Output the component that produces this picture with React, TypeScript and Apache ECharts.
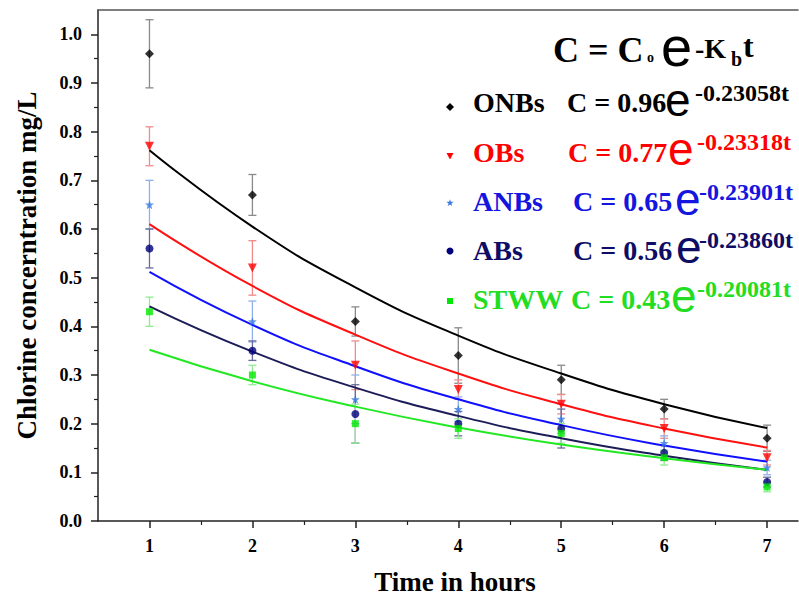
import React, { useEffect, useRef } from "react";
import * as echarts from "echarts";

// ---- data ----
const hours = [1, 2, 3, 4, 5, 6, 7];
const xMajorTicks = [1, 2, 3, 4, 5, 6, 7];
const xMinorTicks = [1.5, 2.5, 3.5, 4.5, 5.5, 6.5];
const yMajorTicks = [0, 0.1, 0.2, 0.3, 0.4, 0.5, 0.6, 0.7, 0.8, 0.9, 1.0];
const yMinorTicks = [0.05, 0.15, 0.25, 0.35, 0.45, 0.55, 0.65, 0.75, 0.85, 0.95];

const onbs = [0.96, 0.67, 0.41, 0.34, 0.29, 0.23, 0.17];
const onbsErr = [0.07, 0.042, 0.03, 0.057, 0.03, 0.02, 0.027];
const onbsFit = [0.762, 0.605, 0.48, 0.381, 0.303, 0.24, 0.191];

const obs = [0.77, 0.52, 0.32, 0.27, 0.24, 0.19, 0.13];
const obsErr = [0.04, 0.056, 0.05, 0.02, 0.02, 0.02, 0.015];
const obsFit = [0.61, 0.483, 0.383, 0.303, 0.24, 0.19, 0.151];

const anbs = [0.65, 0.41, 0.25, 0.23, 0.21, 0.16, 0.11];
const anbsErr = [0.05, 0.042, 0.05, 0.025, 0.03, 0.015, 0.015];
const anbsFit = [0.512, 0.403, 0.318, 0.25, 0.197, 0.155, 0.122];

const abs = [0.56, 0.35, 0.22, 0.2, 0.19, 0.14, 0.08];
const absErr = [0.04, 0.02, 0.06, 0.025, 0.04, 0.015, 0.01];
const absFit = [0.441, 0.348, 0.274, 0.216, 0.17, 0.134, 0.105];

const stww = [0.43, 0.3, 0.2, 0.19, 0.18, 0.13, 0.07];
const stwwErr = [0.03, 0.02, 0.04, 0.02, 0.02, 0.015, 0.01];
const stwwFit = [0.352, 0.287, 0.235, 0.192, 0.157, 0.129, 0.105];

const seriesNames = ["ONBs", "OBs", "ANBs", "ABs", "STWW"];
const coefs = ["0.96", "0.77", "0.65", "0.56", "0.43"];
const exponents = ["-0.23058t", "-0.23318t", "-0.23901t", "-0.23860t", "-0.20081t"];

const SERIF = "'Liberation Serif', 'Times New Roman', serif";
const SANS = "'Liberation Sans', Arial, sans-serif";
const STAR = "path://M0,-10L2.35,-3.24L9.51,-3.09L3.8,1.24L5.88,8.09L0,4L-5.88,8.09L-3.8,1.24L-9.51,-3.09L-2.35,-3.24Z";

export default function App() {
  const ref = useRef<HTMLDivElement>(null);

  useEffect(() => {
    document.body.style.margin = "0";
    const chart = echarts.init(ref.current!, undefined, { renderer: "svg" });

    const groups = [
      { name: "ONBs", v: onbs, e: onbsErr, fit: onbsFit, pt: "#000000", line: "#000000", err: "#8a8a8a", text: "#000000", symbol: "diamond", size: 9, rot: 0 },
      { name: "OBs", v: obs, e: obsErr, fit: obsFit, pt: "#ff0000", line: "#ff1010", err: "#f28a8a", text: "#ff0000", symbol: "triangle", size: 9, rot: 180 },
      { name: "ANBs", v: anbs, e: anbsErr, fit: anbsFit, pt: "#3a7be0", line: "#1010ff", err: "#8fb0e8", text: "#1515e0", symbol: STAR, size: 9, rot: 0 },
      { name: "ABs", v: abs, e: absErr, fit: absFit, pt: "#00007a", line: "#1c1c58", err: "#6a6a9a", text: "#0d0d66", symbol: "circle", size: 8, rot: 0 },
      { name: "STWW", v: stww, e: stwwErr, fit: stwwFit, pt: "#00e800", line: "#22e822", err: "#90ec90", text: "#22dd22", symbol: "rect", size: 7, rot: 0 },
    ];

    const series: any[] = [];
    groups.forEach((g) => {
      series.push({
        type: "custom",
        name: g.name + " error",
        xAxisIndex: 0,
        yAxisIndex: 0,
        z: 1,
        data: hours.map((h, i) => [h, g.v[i] - g.e[i], g.v[i] + g.e[i]]),
        encode: { x: 0, y: [1, 2] },
        renderItem: (params: any, api: any) => {
          const x = api.value(0);
          const lo = api.coord([x, api.value(1)]);
          const hi = api.coord([x, api.value(2)]);
          const w = 4;
          const st = { stroke: g.err, lineWidth: 1.3 };
          return {
            type: "group",
            children: [
              { type: "line", shape: { x1: lo[0], y1: lo[1], x2: hi[0], y2: hi[1] }, style: st },
              { type: "line", shape: { x1: hi[0] - w, y1: hi[1], x2: hi[0] + w, y2: hi[1] }, style: st },
              { type: "line", shape: { x1: lo[0] - w, y1: lo[1], x2: lo[0] + w, y2: lo[1] }, style: st },
            ],
          };
        },
      });
    });
    groups.forEach((g) => {
      series.push({
        type: "line",
        name: g.name + " fit",
        xAxisIndex: 0,
        yAxisIndex: 0,
        z: 2,
        smooth: true,
        showSymbol: false,
        data: hours.map((h, i) => [h, g.fit[i]]),
        lineStyle: { color: g.line, width: 2 },
      });
    });
    groups.forEach((g) => {
      series.push({
        type: "scatter",
        name: g.name,
        xAxisIndex: 0,
        yAxisIndex: 0,
        z: 3,
        symbol: g.symbol,
        symbolSize: g.size,
        symbolRotate: g.rot,
        data: hours.map((h, i) => [h, g.v[i]]),
        itemStyle: { color: g.pt },
      });
    });

    const rowY = [102.5, 152, 201.5, 250, 299];
    const cX = [567, 568, 573, 573, 571];
    const eX = [665, 668, 675, 676, 671];
    const supX = [695, 697, 699, 699, 697];
    const symY = [107, 156, 203, 251, 301];

    const graphics: any[] = [];
    // title formula
    const tfill = "#000";
    graphics.push({ type: "text", x: 553, y: 50, style: { text: "C = C", font: `bold 36px ${SERIF}`, fill: tfill, align: "left", verticalAlign: "middle" } });
    graphics.push({ type: "text", x: 647, y: 57, style: { text: "o", font: `bold 14px ${SERIF}`, fill: tfill, align: "left", verticalAlign: "middle" } });
    graphics.push({ type: "text", x: 661, y: 46, style: { text: "e", font: `56px ${SANS}`, fill: tfill, align: "left", verticalAlign: "middle" } });
    graphics.push({ type: "text", x: 695, y: 48, style: { text: "-K", font: `bold 28px ${SERIF}`, fill: tfill, align: "left", verticalAlign: "middle" } });
    graphics.push({ type: "text", x: 731, y: 59, style: { text: "b", font: `bold 20px ${SERIF}`, fill: tfill, align: "left", verticalAlign: "middle" } });
    graphics.push({ type: "text", x: 743, y: 46, style: { text: "t", font: `bold 32px ${SERIF}`, fill: tfill, align: "left", verticalAlign: "middle" } });

    groups.forEach((g, i) => {
      const y = rowY[i];
      graphics.push({ type: "text", x: 473, y, style: { text: seriesNames[i], font: `bold 28px ${SERIF}`, fill: g.text, align: "left", verticalAlign: "middle" } });
      graphics.push({ type: "text", x: cX[i], y, style: { text: "C = " + coefs[i], font: `bold 28px ${SERIF}`, fill: g.text, align: "left", verticalAlign: "middle" } });
      graphics.push({ type: "text", x: eX[i], y: y - 3, style: { text: "e", font: `46px ${SANS}`, fill: g.text, align: "left", verticalAlign: "middle" } });
      graphics.push({ type: "text", x: supX[i], y: y - 10, style: { text: exponents[i], font: `bold 24px ${SERIF}`, fill: g.text, align: "left", verticalAlign: "middle" } });
    });
    // legend glyphs
    const sx = 450;
    graphics.push({ type: "polygon", shape: { points: [[sx, symY[0] - 4], [sx + 4, symY[0]], [sx, symY[0] + 4], [sx - 4, symY[0]]] }, style: { fill: groups[0].pt } });
    graphics.push({ type: "polygon", shape: { points: [[sx - 3.5, symY[1] - 3], [sx + 3.5, symY[1] - 3], [sx, symY[1] + 3.5]] }, style: { fill: groups[1].pt } });
    graphics.push({
      type: "polygon",
      shape: {
        points: [[0, -10], [2.35, -3.24], [9.51, -3.09], [3.8, 1.24], [5.88, 8.09], [0, 4], [-5.88, 8.09], [-3.8, 1.24], [-9.51, -3.09], [-2.35, -3.24]].map((p) => [sx + p[0] * 0.38, symY[2] + p[1] * 0.38]),
      },
      style: { fill: groups[2].pt },
    });
    graphics.push({ type: "circle", shape: { cx: sx, cy: symY[3], r: 3.5 }, style: { fill: groups[3].pt } });
    graphics.push({ type: "rect", shape: { x: sx - 3, y: symY[4] - 3, width: 6, height: 6 }, style: { fill: groups[4].pt } });

    const axisFont = { fontFamily: SERIF, fontWeight: "bold" as const, fontSize: 18, color: "#000" };

    chart.setOption({
      animation: false,
      grid: { left: 98, top: 10, right: 1, bottom: 74, show: false, outerBoundsMode: "none", containLabel: false },
      xAxis: [
        {
          type: "value",
          min: 0.5,
          max: 7.3,
          position: "bottom",
          name: "Time in hours",
          nameLocation: "middle",
          nameGap: 47,
          nameTextStyle: { fontFamily: SERIF, fontWeight: "bold", fontSize: 27, color: "#000", padding: [0, 0, 0, 14] },
          axisLine: { show: true, lineStyle: { color: "#222", width: 1.5 } },
          axisTick: { show: true, customValues: xMajorTicks, length: 7, lineStyle: { color: "#222", width: 1.5 } },
          axisLabel: { show: true, customValues: xMajorTicks, margin: 16, ...axisFont, formatter: (v: number) => String(v) },
          splitLine: { show: false },
        },
        {
          type: "value",
          min: 0.5,
          max: 7.3,
          position: "bottom",
          axisLine: { show: false },
          axisTick: { show: true, customValues: xMinorTicks, length: 4, lineStyle: { color: "#222", width: 1.2 } },
          axisLabel: { show: false },
          splitLine: { show: false },
        },
        {
          type: "value",
          min: 0.5,
          max: 7.3,
          position: "top",
          axisLine: { show: true, lineStyle: { color: "#555", width: 1.5 } },
          axisTick: { show: false },
          axisLabel: { show: false },
          splitLine: { show: false },
        },
      ],
      yAxis: [
        {
          type: "value",
          min: 0,
          max: 1.05,
          position: "left",
          name: "Chlorine concerntration mg/L",
          nameLocation: "middle",
          nameGap: 58,
          nameTextStyle: { fontFamily: SERIF, fontWeight: "bold", fontSize: 27, color: "#000" },
          axisLine: { show: true, lineStyle: { color: "#222", width: 1.5 } },
          axisTick: { show: true, customValues: yMajorTicks, length: 7, lineStyle: { color: "#222", width: 1.5 } },
          axisLabel: { show: true, customValues: yMajorTicks, margin: 16, ...axisFont, formatter: (v: number) => v.toFixed(1) },
          splitLine: { show: false },
        },
        {
          type: "value",
          min: 0,
          max: 1.05,
          position: "left",
          axisLine: { show: false },
          axisTick: { show: true, customValues: yMinorTicks, length: 4, lineStyle: { color: "#222", width: 1.2 } },
          axisLabel: { show: false },
          splitLine: { show: false },
        },
      ],
      series,
      graphic: graphics,
    });

    return () => chart.dispose();
  }, []);

  return <div ref={ref} style={{ width: 799, height: 595 }} />;
}
